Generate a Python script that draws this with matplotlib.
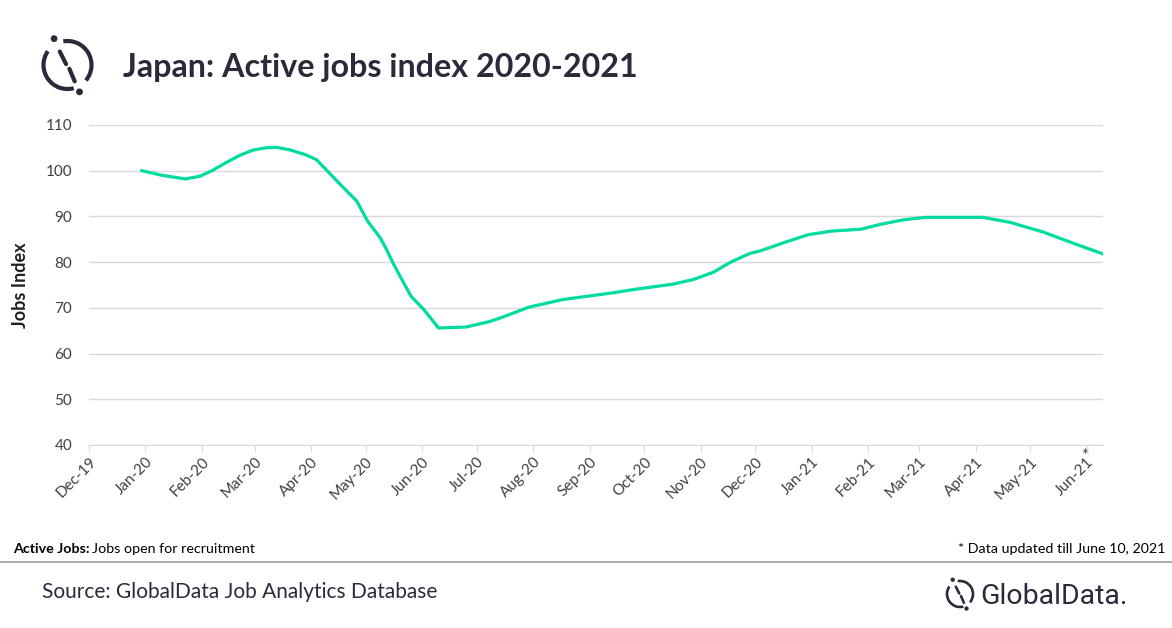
import numpy as np
import pandas as pd
import matplotlib
matplotlib.use('Agg')
import matplotlib.pyplot as plt
import matplotlib.dates as mdates
from matplotlib.patches import Arc, Circle

plt.rcParams['font.family'] = ['Lato', 'DejaVu Sans']

# data
dates = ['2019-12-30', '2020-01-10', '2020-01-23', '2020-01-31', '2020-02-07',
         '2020-02-14', '2020-02-22', '2020-02-29', '2020-03-07', '2020-03-13',
         '2020-03-20', '2020-03-29', '2020-04-04', '2020-04-11', '2020-04-18',
         '2020-04-26', '2020-05-02', '2020-05-09', '2020-05-12', '2020-05-16',
         '2020-05-21', '2020-05-26', '2020-06-02', '2020-06-10', '2020-06-25',
         '2020-07-08', '2020-07-14', '2020-07-22', '2020-07-30', '2020-08-06',
         '2020-08-17', '2020-08-30', '2020-09-14', '2020-09-25', '2020-10-06',
         '2020-10-17', '2020-10-28', '2020-11-08', '2020-11-17', '2020-11-28',
         '2020-12-04', '2020-12-17', '2020-12-30', '2021-01-12', '2021-01-28',
         '2021-02-08', '2021-02-21', '2021-03-05', '2021-04-05', '2021-04-20',
         '2021-05-08', '2021-05-27', '2021-06-10']
jobs_index = [100.0, 99.0, 98.2, 98.8, 100.1,
              101.7, 103.4, 104.5, 105.0, 105.1,
              104.6, 103.5, 102.4, 99.5, 96.6,
              93.4, 89.0, 85.3, 83.1, 79.8,
              76.1, 72.5, 69.6, 65.6, 65.8,
              67.0, 67.8, 69.0, 70.2, 70.8,
              71.8, 72.5, 73.3, 74.0, 74.6,
              75.2, 76.2, 77.8, 79.9, 81.9,
              82.5, 84.3, 86.0, 86.8, 87.2,
              88.3, 89.3, 89.8, 89.8, 88.7,
              86.6, 83.8, 81.8]
month_ticks = pd.date_range('2019-12-01', '2021-06-01', freq='MS')
y_ticks = [40, 50, 60, 70, 80, 90, 100, 110]

dark = '#2b2a3a'
grid = '#d9d9d9'

fig = plt.figure(figsize=(11.72, 6.28), dpi=100)
ax = fig.add_axes([89 / 1172, 1 - 445 / 628, (1103 - 89) / 1172, 320 / 628])

x = pd.to_datetime(dates)
ax.plot(x, jobs_index, color='#00dca0', lw=2.3, solid_joinstyle='round')

ax.set_xlim(pd.Timestamp('2019-12-01'), pd.Timestamp('2021-06-10'))
ax.set_ylim(40, 110)
ax.set_yticks(y_ticks)
ax.set_xticks(month_ticks)
ax.xaxis.set_major_formatter(mdates.DateFormatter('%b-%y'))
ax.grid(axis='y', color=grid, lw=1)
ax.set_axisbelow(True)
for s in ['top', 'right', 'left']:
    ax.spines[s].set_visible(False)
ax.spines['bottom'].set_color(grid)
ax.tick_params(axis='x', length=5, color=grid, labelsize=11, labelcolor='#404040', pad=2)
ax.tick_params(axis='y', length=0, labelsize=11, labelcolor='#404040', pad=12)
plt.setp(ax.get_xticklabels(), rotation=45, ha='right', rotation_mode='anchor')
ax.set_ylabel('Jobs Index', fontsize=13, fontweight='bold', color='#202020', labelpad=12)

# overlay in pixel coordinates for title, logos and footer
ov = fig.add_axes([0, 0, 1, 1], zorder=-1)
ov.set_xlim(0, 1172)
ov.set_ylim(628, 0)
ov.axis('off')

ov.text(123, 67, 'Japan: Active jobs index 2020-2021', fontsize=23.2, fontweight='bold',
        color=dark, va='center', ha='left')


def arc(cx, cy, r, a1, a2, lw):
    # angles as seen on screen (counter-clockwise, y up); the overlay y axis is flipped
    ov.add_patch(Arc((cx, cy), 2 * r, 2 * r, theta1=-a2, theta2=-a1, color=dark, lw=lw))


def logo(cx, cy, r, lw):
    s = r / 25.0
    arc(cx, cy, r, 145, 285, lw)
    arc(cx, cy, r, 320, 460, lw)
    ov.plot([cx - 8 * s, cx - 1.5 * s], [cy - 14 * s, cy - 1 * s], color=dark, lw=lw,
            solid_capstyle='round')
    ov.plot([cx + 2 * s, cx + 7.5 * s], [cy + 4 * s, cy + 17 * s], color=dark, lw=lw,
            solid_capstyle='round')
    ov.add_patch(Circle((cx - 14 * s, cy - 27.5 * s), 2.8 * s, color=dark))
    ov.add_patch(Circle((cx + 12.5 * s, cy + 28 * s), 2.8 * s, color=dark))


logo(67.5, 65, 24, 3.0)
logo(960, 594, 13, 1.9)
ov.text(980, 596, 'GlobalData.', fontsize=20.5, color=dark, va='center', ha='left',
        family=['Roboto', 'DejaVu Sans'])

ov.text(1086, 456, '*', fontsize=13, color='#404040', ha='center', va='center')

# bold lead-in, then the plain text right after it
r = fig.canvas.get_renderer()
t1 = ov.text(13, 549, 'Active Jobs:', fontsize=10.3, fontweight='bold', color='black',
             va='center')
x_end = ov.transData.inverted().transform((t1.get_window_extent(r).x1, 0))[0]
ov.text(x_end + 3, 549, 'Jobs open for recruitment', fontsize=10.3, color='black',
        va='center')
ov.text(1166, 549, '* Data updated till June 10, 2021', fontsize=10.3, color='black',
        va='center', ha='right')
ov.plot([0, 1172], [562, 562], color='#a0a0a0', lw=1.2)
ov.text(42, 592, 'Source: GlobalData Job Analytics Database', fontsize=15, color=dark,
        va='center', ha='left')

fig.savefig('out.png', dpi=100)
